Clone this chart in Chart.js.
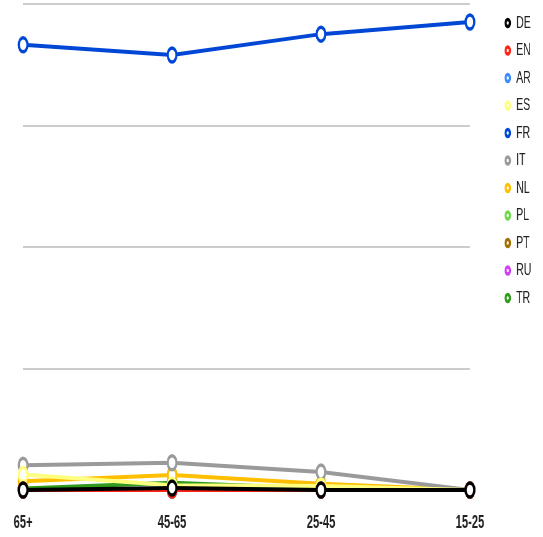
<!DOCTYPE html>
<html>
<head>
<meta charset="utf-8">
<script src="https://cdn.jsdelivr.net/npm/chart.js@4/dist/chart.umd.min.js"></script>
<style>
  html, body { margin: 0; padding: 0; background: #ffffff; overflow: hidden; }
  #chart {
    display: block;
    width: 876px;
    height: 537px;
    transform: scaleX(0.62);
    transform-origin: 0 0;
  }
</style>
</head>
<body>
<canvas id="chart" width="876" height="537"></canvas>
<script>
// Age groups along the x axis
const ageGroups = ['65+', '45-65', '25-45', '15-25'];

// Language codes, in legend order
const languages = ['DE', 'EN', 'AR', 'ES', 'FR', 'IT', 'NL', 'PL', 'PT', 'RU', 'TR'];

// Share per age group for each language
const valuesDE = [0, 0.4, 0, 0];
const valuesEN = [0, 0, 0, 0];
const valuesAR = [0, 0, 0, 0];
const valuesES = [3.2, 1.0, 0.8, 0];
const valuesFR = [91.6, 89.5, 93.8, 96.3];
const valuesIT = [5.1, 5.6, 3.7, 0];
const valuesNL = [1.8, 3.1, 1.3, 0];
const valuesPL = [0, 0, 0, 0];
const valuesPT = [0, 0, 0, 0];
const valuesRU = [0, 0, 0, 0];
const valuesTR = [0.3, 1.5, 0.3, 0];

// Value axis range and grid step
const axisMin = 0;
const axisMax = 100;
const axisStep = 25;

const seriesValues = [valuesDE, valuesEN, valuesAR, valuesES, valuesFR, valuesIT,
                      valuesNL, valuesPL, valuesPT, valuesRU, valuesTR];

const lineColors = ['#000000', '#ff2414', '#3d8bff', '#ffff80', '#0047d6', '#9a9a9a',
                    '#ffbf00', '#6fd94c', '#a36d00', '#d040f0', '#2f9a1e'];

const fontFamily = "'Liberation Sans', Arial, sans-serif";

const datasets = languages.map((code, i) => ({
  label: code,
  data: seriesValues[i],
  borderColor: lineColors[i],
  backgroundColor: '#ffffff',
  borderWidth: 4,
  pointRadius: 7,
  pointHoverRadius: 7,
  pointBorderWidth: 3.5,
  pointBackgroundColor: '#ffffff',
  pointBorderColor: lineColors[i],
  fill: false,
  tension: 0,
  clip: false
}));

new Chart(document.getElementById('chart'), {
  type: 'line',
  data: { labels: ageGroups, datasets },
  options: {
    responsive: false,
    animation: false,
    devicePixelRatio: 1,
    layout: {
      autoPadding: false,
      padding: { top: 4, right: 9, bottom: 5, left: 0 }
    },
    plugins: {
      tooltip: { enabled: false },
      legend: {
        position: 'right',
        align: 'start',
        labels: {
          usePointStyle: true,
          pointStyle: 'circle',
          boxWidth: 10,
          boxHeight: 5,
          padding: 10.5,
          color: '#222222',
          font: { family: fontFamily, size: 17 }
        }
      }
    },
    scales: {
      x: {
        type: 'category',
        offset: false,
        grid: { display: false, drawTicks: false },
        border: { display: false },
        ticks: {
          color: '#222222',
          padding: 22,
          maxRotation: 0,
          autoSkip: false,
          font: { family: fontFamily, size: 18, weight: 'bold' }
        },
        afterFit: (scale) => { scale.height = 42; }
      },
      y: {
        position: 'left',
        min: axisMin,
        max: axisMax,
        ticks: { display: false, stepSize: axisStep },
        grid: { color: '#cccccc', lineWidth: 2, drawTicks: false },
        border: { display: false },
        afterFit: (scale) => { scale.width = 34; }
      },
      spacer: {
        type: 'linear',
        position: 'right',
        ticks: { display: false },
        grid: { display: false, drawTicks: false },
        border: { display: false },
        afterFit: (scale) => { scale.width = 45.5; }
      }
    }
  }
});
</script>
</body>
</html>
